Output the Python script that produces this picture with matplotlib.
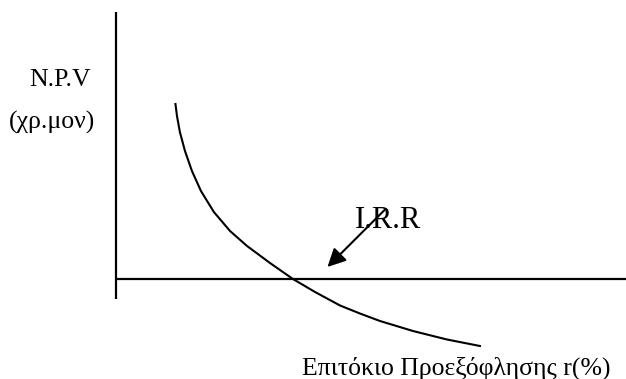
import matplotlib
matplotlib.use("Agg")
import matplotlib.pyplot as plt

plt.rcParams['font.family'] = ['Liberation Serif', 'DejaVu Serif']

# NPV profile (rate in %, NPV in money units)
rate = [3.50, 3.59, 3.76, 4.06, 4.47, 5.00, 5.76, 6.71, 7.71, 9.06, 10.41,
        11.71, 13.18, 14.35, 15.53, 17.47, 19.47, 21.41]
npv = [1750, 1630, 1470, 1280, 1080, 880, 670, 480, 330, 160, 0,
       -130, -265, -345, -420, -520, -605, -670]

y_label = ["N.P.V", "(χρ.μον)"]
x_label = "Επιτόκιο Προεξόφλησης r(%)"
irr_label = "I.R.R"

fig = plt.figure(figsize=(6.26, 3.79), dpi=100)
ax = fig.add_axes([0, 0, 1, 1])
ax.set_xlim(-6.82, 30)
ax.set_ylim(-1000, 2790)
ax.axis('off')

# hand-drawn style axes
ax.plot([0, 0], [-200, 2670], color='black', lw=1.6, solid_capstyle='butt')
ax.plot([0, 30], [0, 0], color='black', lw=1.6, solid_capstyle='butt')

ax.plot(rate, npv, color='black', lw=1.5, solid_joinstyle='round')

ax.annotate('', xy=(12.44, 120), xytext=(15.8, 690),
            arrowprops=dict(arrowstyle='-|>,head_length=0.5,head_width=0.25',
                            color='black', lw=1.5,
                            mutation_scale=22, shrinkA=0, shrinkB=0))
ax.text(16.0, 590, irr_label, fontsize=22, ha='center', va='center')

ax.text(-3.3, 1933, y_label[0], fontsize=18.5, ha='center', va='baseline')
ax.text(-3.76, 1500, y_label[1], fontsize=18.5, ha='center', va='baseline')
ax.text(29.06, -960, x_label, fontsize=18.5, ha='right', va='baseline')

fig.savefig('out.png', dpi=100)
